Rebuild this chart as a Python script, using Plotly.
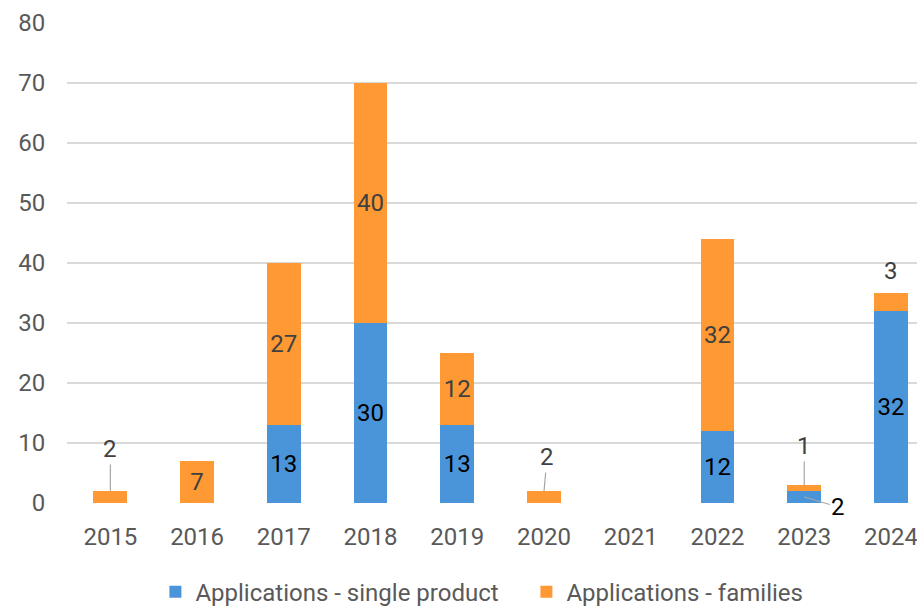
import plotly.graph_objects as go

years = ["2015", "2016", "2017", "2018", "2019", "2020", "2021", "2022", "2023", "2024"]
single = [0, 0, 13, 30, 13, 0, 0, 12, 2, 32]
families = [2, 7, 27, 40, 12, 2, 0, 32, 1, 3]

# labels shown inside bars
single_inside = ["", "", "13", "30", "13", "", "", "12", "", "32"]
families_inside = ["", "7", "27", "40", "12", "", "", "32", "", ""]

blue = "#4A95DA"
orange = "#FF9933"
font_fam = "Roboto"
fs = 24

fig = go.Figure()
fig.add_trace(go.Bar(
    x=years, y=single, name="Applications - single product",
    marker=dict(color=blue, line=dict(width=0)),
    text=single_inside, textposition="inside", insidetextanchor="middle",
    textfont=dict(color="#000000", size=fs, family=font_fam),
    width=0.39, hoverinfo="x+y",
))
fig.add_trace(go.Bar(
    x=years, y=families, name="Applications - families",
    marker=dict(color=orange, line=dict(width=0)),
    text=families_inside, textposition="inside", insidetextanchor="middle",
    textfont=dict(color="#404040", size=fs, family=font_fam),
    width=0.39, hoverinfo="x+y",
))

ann_font = dict(size=fs, color="#404040", family=font_fam)
# external labels with leader lines
for yr, dx, dy in [("2015", 0, -42), ("2020", 3, -34)]:
    i = years.index(yr)
    fig.add_annotation(x=i, y=single[i] + families[i], text=str(families[i]),
                       showarrow=True, arrowhead=0, arrowwidth=1.2, arrowcolor="#A6A6A6",
                       ax=dx, ay=dy, font=ann_font, standoff=0)
i = years.index("2023")
fig.add_annotation(x=i, y=single[i] + families[i], text=str(families[i]),
                   showarrow=True, arrowhead=0, arrowwidth=1.2, arrowcolor="#A6A6A6",
                   ax=0, ay=-39, font=ann_font)
fig.add_annotation(x=i, y=single[i] / 2, text=str(single[i]),
                   showarrow=True, arrowhead=0, arrowwidth=1.2, arrowcolor="#A6A6A6",
                   ax=34, ay=10, font=dict(size=fs, color="#000000", family=font_fam))
i = years.index("2024")
fig.add_annotation(x=i, y=single[i] + families[i], text=str(families[i]),
                   showarrow=False, yanchor="bottom", yshift=6, font=ann_font)

fig.update_layout(
    barmode="stack",
    width=917, height=607,
    margin=dict(l=67, r=0, t=23, b=104, autoexpand=False),
    paper_bgcolor="white", plot_bgcolor="white",
    font=dict(family=font_fam, size=fs, color="#595959"),
    xaxis=dict(type="category", range=[-0.5, 9.3], showgrid=False, zeroline=False, showline=False,
               ticks="outside", ticklen=12, tickcolor="rgba(0,0,0,0)",
               tickfont=dict(size=fs, color="#595959"), fixedrange=True),
    yaxis=dict(range=[0, 80], dtick=10, showgrid=True, gridcolor="#D9D9D9", gridwidth=1.5,
               zeroline=False, showline=False, ticks="outside", ticklen=16,
               tickcolor="rgba(0,0,0,0)",
               tickfont=dict(size=fs, color="#595959"), fixedrange=True),
    legend=dict(orientation="h", x=0.104, xanchor="left", y=-0.139, yanchor="top",
                font=dict(size=fs, color="#595959"), itemwidth=30, traceorder="normal",
                entrywidth=326, entrywidthmode="pixels"),
    bargap=0.61,
)
fig.write_html("out.html")
